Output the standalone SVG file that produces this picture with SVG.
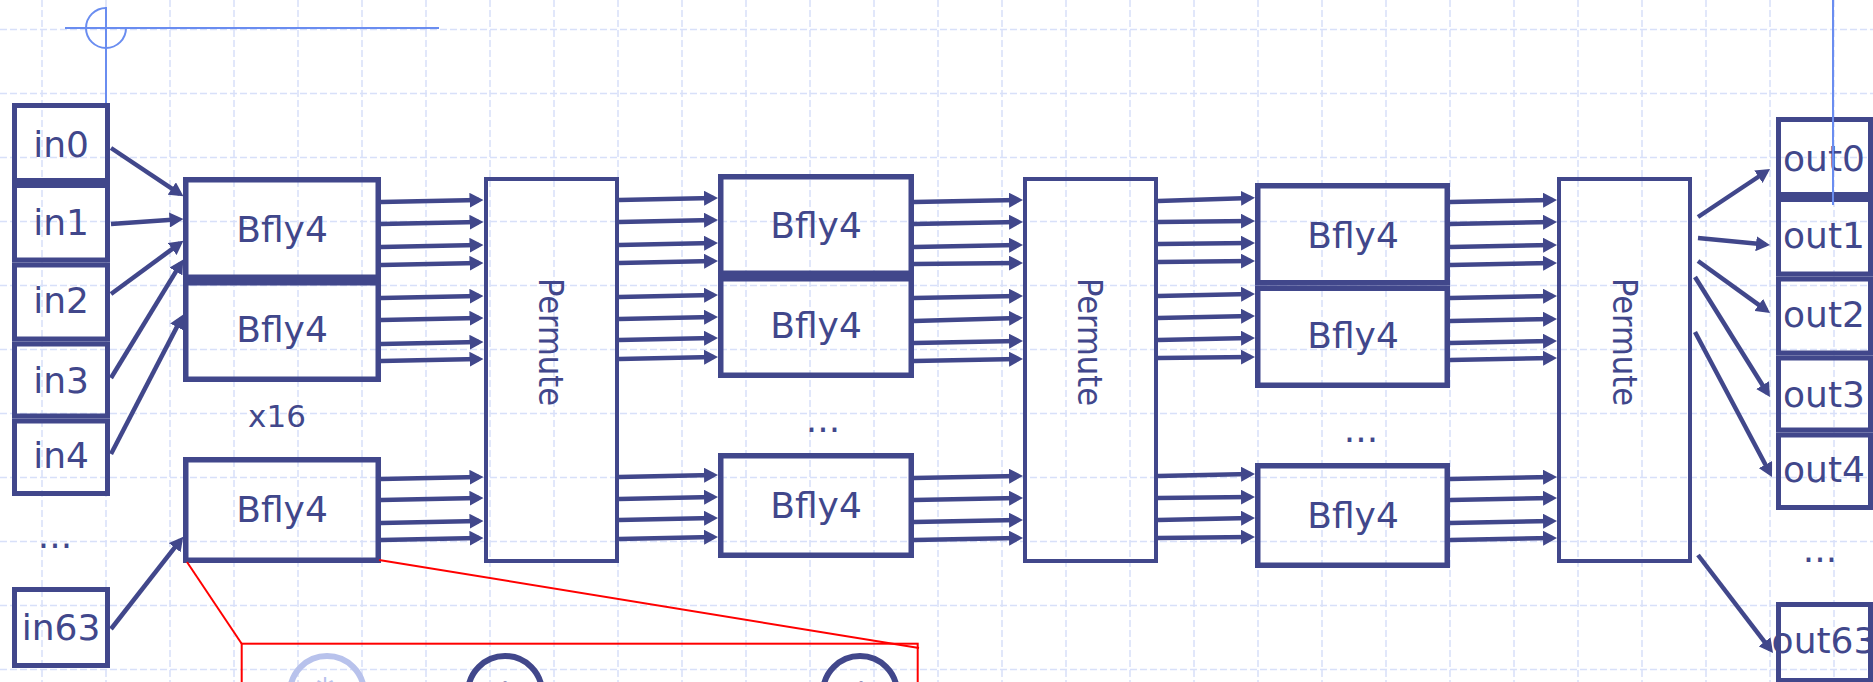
<svg xmlns="http://www.w3.org/2000/svg" width="1873" height="682" viewBox="0 0 1873 682">
<style>
.grid line{stroke:#d8e0f9;stroke-width:1.5;stroke-dasharray:7 3}
.box{fill:none;stroke:#41478b;stroke-width:5}
.bf{fill:none;stroke:#41478b;stroke-width:5.5}
.pm{fill:none;stroke:#41478b;stroke-width:4}
.lbl{font-family:"DejaVu Sans","Verdana",sans-serif;font-size:36px;fill:#41478b;text-anchor:middle}
.sm{font-family:"DejaVu Sans","Verdana",sans-serif;font-size:31px;fill:#41478b;text-anchor:middle}
.pt{font-family:"DejaVu Sans Condensed","DejaVu Sans",sans-serif;font-size:34px;fill:#41478b;text-anchor:middle}
.sym{font-family:"DejaVu Sans",sans-serif;font-size:36px;text-anchor:middle}
.conn line{stroke:#41478b;stroke-width:4.5;marker-end:url(#ah)}
.red{fill:none;stroke:#ff0000;stroke-width:2}
.cur{fill:none;stroke:#6a8df0;stroke-width:2}
</style>
<defs>
<marker id="ah" markerUnits="userSpaceOnUse" viewBox="0 0 14 15" markerWidth="14" markerHeight="15" refX="9.5" refY="7.5" orient="auto">
<path d="M0,0 L14,7.5 L0,15 z" fill="#41478b"/>
</marker>
</defs>
<rect width="1873" height="682" fill="#ffffff"/>
<g class="grid">
<line x1="42" y1="0" x2="42" y2="682"/><line x1="106" y1="0" x2="106" y2="682"/><line x1="170" y1="0" x2="170" y2="682"/><line x1="234" y1="0" x2="234" y2="682"/><line x1="298" y1="0" x2="298" y2="682"/><line x1="362" y1="0" x2="362" y2="682"/><line x1="426" y1="0" x2="426" y2="682"/><line x1="490" y1="0" x2="490" y2="682"/><line x1="554" y1="0" x2="554" y2="682"/><line x1="618" y1="0" x2="618" y2="682"/><line x1="682" y1="0" x2="682" y2="682"/><line x1="746" y1="0" x2="746" y2="682"/><line x1="810" y1="0" x2="810" y2="682"/><line x1="874" y1="0" x2="874" y2="682"/><line x1="938" y1="0" x2="938" y2="682"/><line x1="1002" y1="0" x2="1002" y2="682"/><line x1="1066" y1="0" x2="1066" y2="682"/><line x1="1130" y1="0" x2="1130" y2="682"/><line x1="1194" y1="0" x2="1194" y2="682"/><line x1="1258" y1="0" x2="1258" y2="682"/><line x1="1322" y1="0" x2="1322" y2="682"/><line x1="1386" y1="0" x2="1386" y2="682"/><line x1="1450" y1="0" x2="1450" y2="682"/><line x1="1514" y1="0" x2="1514" y2="682"/><line x1="1578" y1="0" x2="1578" y2="682"/><line x1="1642" y1="0" x2="1642" y2="682"/><line x1="1706" y1="0" x2="1706" y2="682"/><line x1="1770" y1="0" x2="1770" y2="682"/><line x1="1834" y1="0" x2="1834" y2="682"/>
<line x1="0" y1="29.5" x2="1873" y2="29.5"/><line x1="0" y1="93.5" x2="1873" y2="93.5"/><line x1="0" y1="157.5" x2="1873" y2="157.5"/><line x1="0" y1="221.5" x2="1873" y2="221.5"/><line x1="0" y1="285.5" x2="1873" y2="285.5"/><line x1="0" y1="349.5" x2="1873" y2="349.5"/><line x1="0" y1="413.5" x2="1873" y2="413.5"/><line x1="0" y1="477.5" x2="1873" y2="477.5"/><line x1="0" y1="541.5" x2="1873" y2="541.5"/><line x1="0" y1="605.5" x2="1873" y2="605.5"/><line x1="0" y1="669.5" x2="1873" y2="669.5"/>
</g>
<g id="cursor-left">
<line class="cur" x1="65" y1="28" x2="439" y2="28"/>
<line class="cur" x1="106" y1="7" x2="106" y2="103"/>
<path class="cur" d="M106,8 A20,20 0 1 0 126,28"/>
</g>
<g id="in0"><rect class="box" x="14.5" y="105.5" width="93" height="75"/><text class="lbl" x="61" y="157">in0</text></g>
<g id="in1"><rect class="box" x="14.5" y="185.5" width="93" height="74.5"/><text class="lbl" x="61" y="235">in1</text></g>
<g id="in2"><rect class="box" x="14.5" y="265" width="93" height="74"/><text class="lbl" x="61" y="313">in2</text></g>
<g id="in3"><rect class="box" x="14.5" y="344" width="93" height="72"/><text class="lbl" x="61" y="393">in3</text></g>
<g id="in4"><rect class="box" x="14.5" y="421" width="93" height="72.5"/><text class="lbl" x="61" y="468">in4</text></g>
<g id="in-dots"><text class="lbl" x="55" y="548">...</text></g>
<g id="in63"><rect class="box" x="14.5" y="589.5" width="93" height="76"/><text class="lbl" x="61" y="640">in63</text></g>
<g id="bfly-1-1"><rect class="bf" x="185.75" y="179.75" width="192.5" height="97.5"/><text class="lbl" x="282" y="242">Bfly4</text></g>
<g id="bfly-1-2"><rect class="bf" x="185.75" y="282.75" width="192.5" height="96.5"/><text class="lbl" x="282" y="342">Bfly4</text></g>
<g id="x16"><text class="sm" x="277" y="427">x16</text></g>
<g id="bfly-1-3"><rect class="bf" x="185.75" y="459.75" width="192.5" height="100.5"/><text class="lbl" x="282" y="522">Bfly4</text></g>
<g id="permute-1"><rect class="pm" x="486" y="179" width="131" height="382"/><text class="pt" transform="translate(551,342) rotate(90)" y="12">Permute</text></g>
<g id="bfly-2-1"><rect class="bf" x="720.75" y="176.75" width="190.5" height="96.5"/><text class="lbl" x="816" y="238">Bfly4</text></g>
<g id="bfly-2-2"><rect class="bf" x="720.75" y="278.75" width="190.5" height="96.5"/><text class="lbl" x="816" y="338">Bfly4</text></g>
<g id="col2-dots"><text class="lbl" x="823" y="432">...</text></g>
<g id="bfly-2-3"><rect class="bf" x="720.75" y="455.75" width="190.5" height="99.5"/><text class="lbl" x="816" y="518">Bfly4</text></g>
<g id="permute-2"><rect class="pm" x="1025" y="179" width="131" height="382"/><text class="pt" transform="translate(1090,342) rotate(90)" y="12">Permute</text></g>
<g id="bfly-3-1"><rect class="bf" x="1257.75" y="185.75" width="189.5" height="97"/><text class="lbl" x="1353" y="248">Bfly4</text></g>
<g id="bfly-3-2"><rect class="bf" x="1257.75" y="288.25" width="189.5" height="97"/><text class="lbl" x="1353" y="348">Bfly4</text></g>
<g id="col3-dots"><text class="lbl" x="1361" y="442">...</text></g>
<g id="bfly-3-3"><rect class="bf" x="1257.75" y="465.75" width="189.5" height="99.5"/><text class="lbl" x="1353" y="528">Bfly4</text></g>
<g id="permute-3"><rect class="pm" x="1559" y="179" width="131" height="382"/><text class="pt" transform="translate(1625,342) rotate(90)" y="12">Permute</text></g>
<g id="out0"><text class="lbl" x="1824" y="171">out0</text><rect class="box" x="1778.5" y="119.5" width="92" height="75"/></g>
<g id="out1"><text class="lbl" x="1824" y="248">out1</text><rect class="box" x="1778.5" y="199.5" width="92" height="74.5"/></g>
<g id="out2"><text class="lbl" x="1824" y="327">out2</text><rect class="box" x="1778.5" y="279" width="92" height="74"/></g>
<g id="out3"><text class="lbl" x="1824" y="407">out3</text><rect class="box" x="1778.5" y="358" width="92" height="72"/></g>
<g id="out4"><text class="lbl" x="1824" y="482">out4</text><rect class="box" x="1778.5" y="435" width="92" height="72.5"/></g>
<g id="out-dots"><text class="lbl" x="1820" y="562">...</text></g>
<g id="out63"><text class="lbl" x="1824" y="653">out63</text><rect class="box" x="1778.5" y="604.5" width="92" height="76"/></g>
<g id="zoom-detail">
<line class="red" x1="187" y1="562" x2="241.7" y2="643.7"/>
<line class="red" x1="379" y1="560" x2="919" y2="648"/>
<rect class="red" x="241.7" y="643.7" width="676" height="60"/>
<circle cx="327" cy="693" r="37" fill="none" stroke="#b8c2ec" stroke-width="6"/>
<text class="sym" x="325" y="703" fill="#b8c2ec">*</text>
<circle cx="505" cy="693" r="37" fill="none" stroke="#41478b" stroke-width="6"/>
<text class="sym" x="505" y="704" fill="#41478b">+</text>
<circle cx="860" cy="693" r="37" fill="none" stroke="#41478b" stroke-width="6"/>
<text class="sym" x="861" y="704" fill="#41478b">+</text>
</g>
<g class="conn" id="connectors">
<line x1="111" y1="148" x2="179.7" y2="193.8"/>
<line x1="111" y1="224" x2="179" y2="219.3"/>
<line x1="111" y1="294" x2="179.8" y2="243.4"/>
<line x1="111" y1="378" x2="180.9" y2="263.4"/>
<line x1="111" y1="454" x2="181.2" y2="318.6"/>
<line x1="111" y1="629" x2="180.5" y2="540.2"/>
<line x1="381" y1="202" x2="479" y2="200"/><line x1="381" y1="224" x2="479" y2="222"/><line x1="381" y1="247" x2="479" y2="245"/><line x1="381" y1="265" x2="479" y2="263"/>
<line x1="381" y1="298" x2="479" y2="296"/><line x1="381" y1="320" x2="479" y2="318"/><line x1="381" y1="344" x2="479" y2="342"/><line x1="381" y1="361" x2="479" y2="359"/>
<line x1="381" y1="479" x2="479" y2="477"/><line x1="381" y1="500" x2="479" y2="498"/><line x1="381" y1="523" x2="479" y2="521"/><line x1="381" y1="540" x2="479" y2="538"/>
<line x1="619" y1="200" x2="713.5" y2="198"/><line x1="619" y1="222" x2="713.5" y2="220"/><line x1="619" y1="245" x2="713.5" y2="243"/><line x1="619" y1="263" x2="713.5" y2="261"/>
<line x1="619" y1="297" x2="713.5" y2="295"/><line x1="619" y1="319" x2="713.5" y2="317"/><line x1="619" y1="340" x2="713.5" y2="338"/><line x1="619" y1="359" x2="713.5" y2="357"/>
<line x1="619" y1="477" x2="713.5" y2="475"/><line x1="619" y1="499" x2="713.5" y2="497"/><line x1="619" y1="520" x2="713.5" y2="518"/><line x1="619" y1="539" x2="713.5" y2="537"/>
<line x1="914" y1="202" x2="1018.5" y2="200"/><line x1="914" y1="224" x2="1018.5" y2="222"/><line x1="914" y1="247" x2="1018.5" y2="245"/><line x1="914" y1="264" x2="1018.5" y2="263"/>
<line x1="914" y1="298" x2="1018.5" y2="296"/><line x1="914" y1="321" x2="1018.5" y2="318"/><line x1="914" y1="343" x2="1018.5" y2="341"/><line x1="914" y1="361" x2="1018.5" y2="359"/>
<line x1="914" y1="478" x2="1018.5" y2="476"/><line x1="914" y1="500" x2="1018.5" y2="498"/><line x1="914" y1="522" x2="1018.5" y2="520"/><line x1="914" y1="540" x2="1018.5" y2="538"/>
<line x1="1158" y1="201" x2="1250.5" y2="198"/><line x1="1158" y1="222" x2="1250.5" y2="221"/><line x1="1158" y1="244" x2="1250.5" y2="243"/><line x1="1158" y1="262" x2="1250.5" y2="261"/>
<line x1="1158" y1="296" x2="1250.5" y2="294"/><line x1="1158" y1="318" x2="1250.5" y2="316"/><line x1="1158" y1="340" x2="1250.5" y2="338"/><line x1="1158" y1="358" x2="1250.5" y2="357"/>
<line x1="1158" y1="476" x2="1250.5" y2="474"/><line x1="1158" y1="498" x2="1250.5" y2="497"/><line x1="1158" y1="520" x2="1250.5" y2="518"/><line x1="1158" y1="538" x2="1250.5" y2="537"/>
<line x1="1450" y1="202" x2="1552.5" y2="200"/><line x1="1450" y1="224" x2="1552.5" y2="222"/><line x1="1450" y1="247" x2="1552.5" y2="245"/><line x1="1450" y1="265" x2="1552.5" y2="263"/>
<line x1="1450" y1="298" x2="1552.5" y2="296"/><line x1="1450" y1="321" x2="1552.5" y2="319"/><line x1="1450" y1="343" x2="1552.5" y2="341"/><line x1="1450" y1="360" x2="1552.5" y2="358"/>
<line x1="1450" y1="479" x2="1552.5" y2="477"/><line x1="1450" y1="500" x2="1552.5" y2="498"/><line x1="1450" y1="523" x2="1552.5" y2="521"/><line x1="1450" y1="540" x2="1552.5" y2="538"/>
<line x1="1698" y1="217" x2="1766.3" y2="171.5"/>
<line x1="1698" y1="238" x2="1765.5" y2="244.6"/>
<line x1="1698" y1="261" x2="1766.4" y2="310.4"/>
<line x1="1695" y1="277" x2="1767.6" y2="393.2"/>
<line x1="1695" y1="332" x2="1769.9" y2="473"/>
<line x1="1698" y1="555" x2="1770.3" y2="649.4"/>
</g>
<g id="cursor-right">
<line class="cur" x1="1833" y1="0" x2="1833" y2="205"/>
</g>
</svg>
